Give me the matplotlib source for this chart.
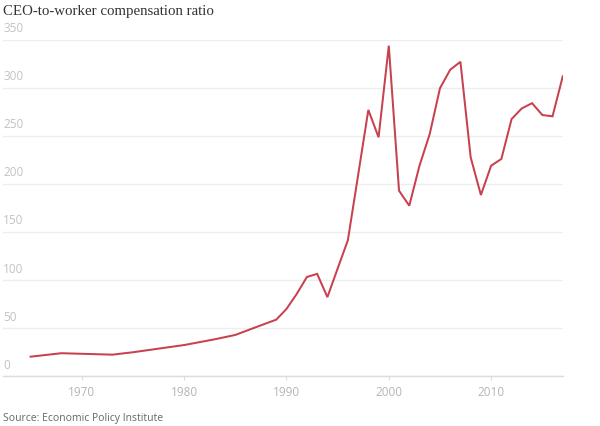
import matplotlib
matplotlib.use("Agg")
import matplotlib.pyplot as plt
import matplotlib.transforms as mtransforms

years = [1965, 1968, 1973, 1975, 1978, 1980, 1983, 1985, 1987, 1989,
         1990, 1991, 1992, 1993, 1994, 1995, 1996, 1997, 1998, 1999,
         2000, 2001, 2002, 2003, 2004, 2005, 2006, 2007, 2008, 2009,
         2010, 2011, 2012, 2013, 2014, 2015, 2016, 2017]
ratio = [20.4, 24.0, 22.5, 25.0, 29.5, 32.5, 38.5, 43.0, 51.0, 58.9,
         70.0, 85.6, 103.3, 106.5, 82.3, 112.0, 141.5, 209.0, 277.0, 248.5,
         343.8, 193.0, 177.4, 219.0, 252.0, 299.5, 318.8, 327.0, 227.7, 188.5,
         219.0, 226.0, 267.5, 278.6, 284.0, 271.7, 270.3, 312.0]

y_ticks = [0, 50, 100, 150, 200, 250, 300, 350]
x_ticks = [1970, 1980, 1990, 2000, 2010]

title = "CEO-to-worker compensation ratio"
source = "Source: Economic Policy Institute"

fig = plt.figure(figsize=(6, 4.27), dpi=100)
ax = fig.add_axes([0.005, 0.1164, 0.9338, 0.7883])

ax.plot(years, ratio, color="#c8414f", lw=1.45, solid_joinstyle="miter", zorder=3)

ax.set_xlim(1962.3, 2017.05)
ax.set_ylim(0, 350)

for s in ["top", "right", "left"]:
    ax.spines[s].set_visible(False)
ax.spines["bottom"].set_color("#dcdcdc")
ax.spines["bottom"].set_linewidth(1.0)

ax.set_yticks(y_ticks)
ax.yaxis.grid(True, color="#eeeeee", lw=1.0)
ax.tick_params(axis="y", length=0, labelleft=False)

ax.set_xticks(x_ticks)
ax.set_xticklabels([str(t) for t in x_ticks], fontsize=8.5, color="#b5b5b5",
                   family="Open Sans")
ax.tick_params(axis="x", length=3, color="#dcdcdc", pad=3.5)

trans = mtransforms.blended_transform_factory(ax.transAxes, ax.transData)
off = mtransforms.offset_copy(trans, fig=fig, x=0, y=4, units="points")
for v in y_ticks:
    ax.text(0.0, v, str(v), transform=off, ha="left", va="bottom",
            fontsize=8.5, color="#c2c2c2", family="Open Sans")

fig.text(0.005, 1 - 11 / 427, title, ha="left", va="center",
         fontsize=10.7, color="#333333", family="Liberation Serif")
fig.text(0.005, 1 - 419 / 427, source, ha="left", va="center",
         fontsize=7.5, color="#666666", family="Open Sans")

fig.savefig("out.png", dpi=100, facecolor="white")
